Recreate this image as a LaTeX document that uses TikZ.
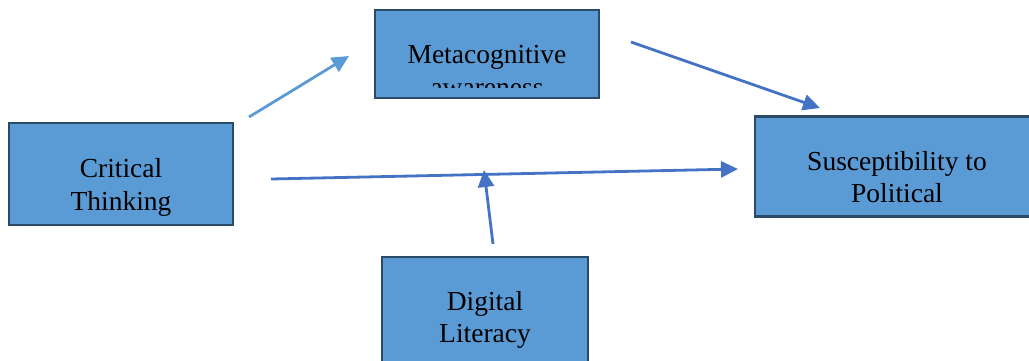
\documentclass[tikz,border=0pt]{standalone}
\usepackage{fontspec}
\setmainfont{Liberation Serif}
\usetikzlibrary{arrows.meta}
\definecolor{boxfill}{HTML}{5B9BD5}
\definecolor{boxline}{HTML}{2B4A68}
\definecolor{arrA}{HTML}{5B9BD5}
\definecolor{arrB}{HTML}{4472C4}
\tikzset{
  varbox/.style={draw=boxline, line width=2.8pt, fill=boxfill, inner sep=0pt, minimum width=#1},
  lbl/.style={anchor=base, inner sep=0pt, font=\fontsize{27.5}{33}\selectfont, text=black},
  conn/.style={line width=2.8pt, -{Triangle[length=17pt,width=16pt]}},
}
\begin{document}
\begin{tikzpicture}[x=1pt,y=-1pt]
\useasboundingbox (0,0) rectangle (1029,360);
\begin{scope}
\clip (0,0) rectangle (1029,360);
% boxes
\node[varbox=224pt, minimum height=88pt] (meta) at (487,54) {};
\node[varbox=224pt, minimum height=102pt] (crit) at (121,174) {};
\node[varbox=285pt, minimum height=100pt] (susc) at (897.5,166.5) {};
\node[varbox=206pt, minimum height=120pt] (digi) at (485,317) {};
% texts
\begin{scope}
\clip (377,12) rectangle (597,87);
\node[lbl] (metat1) at (487,63) {Metacognitive};
\node[lbl] (metat2) at (487,96) {awareness};
\end{scope}
\node[lbl] (critt1) at (121,177) {Critical};
\node[lbl] (critt2) at (121,210) {Thinking};
\node[lbl] (susct1) at (897,170) {Susceptibility to};
\node[lbl] (susct2) at (897,202) {Political};
\node[lbl] (digit1) at (485,310) {Digital};
\node[lbl] (digit2) at (485,342) {Literacy};
\end{scope}
% connector end points
\coordinate (a1) at (249,117);
\coordinate (a2) at (349,56);
\coordinate (b1) at (631,42);
\coordinate (b2) at (820,108);
\coordinate (c1) at (271,179);
\coordinate (c2) at (738,169);
\coordinate (d1) at (493,244);
\coordinate (d2) at (484,170);
\draw[conn, draw=arrA, fill=arrA] (a1) -- (a2);
\draw[conn, draw=arrB, fill=arrB] (b1) -- (b2);
\draw[conn, draw=arrB, fill=arrB] (c1) -- (c2);
\draw[conn, draw=arrB, fill=arrB] (d1) -- (d2);
\end{tikzpicture}
\end{document}
